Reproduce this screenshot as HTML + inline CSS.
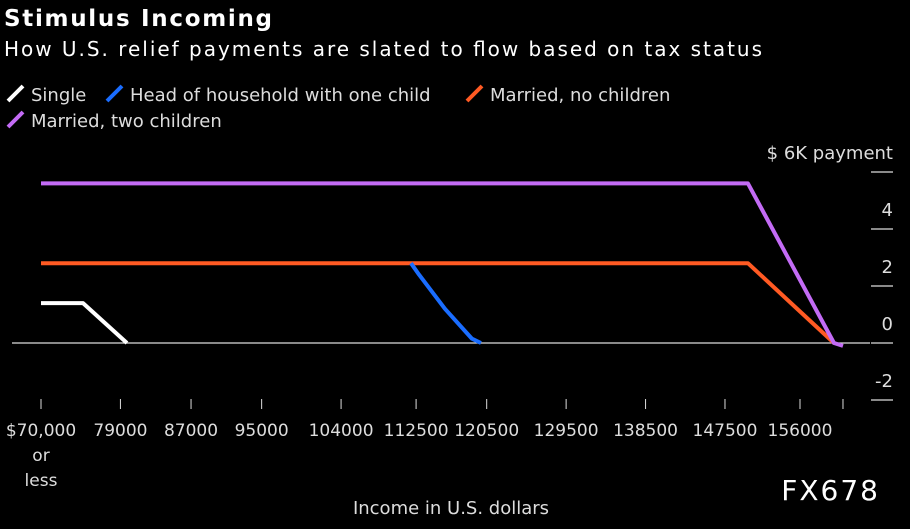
<!DOCTYPE html>
<html><head><meta charset="utf-8"><style>
body{margin:0;background:#000;width:910px;height:525px;overflow:hidden;font-family:"DejaVu Sans","Liberation Sans",sans-serif;}
svg text{fill:#ddd;}
</style></head><body>
<svg id="chart" width="910" height="525" xmlns="http://www.w3.org/2000/svg">
<rect width="910" height="525" fill="#000"/>
<text x="4" y="26" font-size="23" font-weight="bold" style="fill:#fff" textLength="268">Stimulus Incoming</text>
<text x="4" y="56" font-size="20" style="fill:#fff" textLength="758">How U.S. relief payments are slated to flow based on tax status</text>
<g id="legend" font-size="18"></g>
<g id="yaxis" font-size="18"></g>
<g id="xaxis" font-size="17"></g>
<g id="series"></g>
<text x="451" y="514" font-size="18" text-anchor="middle">Income in U.S. dollars</text>
<text x="880" y="500" font-size="28" text-anchor="end" style="fill:#fff" letter-spacing="2">FX678</text>
</svg>
<script>
const tickValues=[70000,79000,87000,95000,104000,112500,120500,129500,138500,147500,156000,160870];
const tickLabels=["$70,000","79000","87000","95000","104000","112500","120500","129500","138500","147500","156000",""];
const yTicks=[-2,0,2,4,6];
const seriesNames=["Single","Head of household with one child","Married, no children","Married, two children"];
const seriesColors=["#ffffff","#1a6dff","#ff5a23","#c36bf5"];
const singleX=[70000,74760,79740];
const singleY=[1.4,1.4,0];
const headX=[111920,112830,115770,118830,119850];
const headY=[2.8,2.4,1.2,0.15,0];
const marriedX=[70000,150100,159850];
const marriedY=[2.8,2.8,0];
const marriedKidsX=[70000,150100,159850,160870];
const marriedKidsY=[5.6,5.6,0,-0.1];

const NS="http://www.w3.org/2000/svg";
const xs=v=>41+(v-70000)*759/86000;
const ys=v=>343-v*28.5;
function mk(tag,attrs,parent,txt){const e=document.createElementNS(NS,tag);for(const k in attrs)e.setAttribute(k,attrs[k]);if(txt!==undefined)e.textContent=txt;parent.appendChild(e);return e;}

const lg=document.getElementById('legend');
const legPos=[[8,101],[107,101],[467,101],[8,127]];
seriesNames.forEach((n,i)=>{
  const [lx,ly]=legPos[i];
  const l=mk('line',{x1:lx,y1:ly,x2:lx+15,y2:ly-15,stroke:seriesColors[i],'stroke-width':4},lg);
  
  
  const t=mk('text',{x:lx+23,y:ly},lg,n);
  
  
});

const ya=document.getElementById('yaxis');
yTicks.forEach(v=>{
  const l=mk('line',{x1:871,x2:893,y1:ys(v),y2:ys(v),stroke:'#ddd','stroke-width':1.2},ya);
  
  
  const t=mk('text',{x:893,y:ys(v)-13,'text-anchor':'end'},ya,v===6?'$ 6K payment':String(v));
  
  
});
const zl=mk('line',{x1:12,x2:870,y1:ys(0),y2:ys(0),stroke:'#ddd','stroke-width':1.2},ya);



const xa=document.getElementById('xaxis');
tickValues.forEach((c,i)=>{
  const l=mk('line',{x1:xs(c),x2:xs(c),y1:399,y2:409,stroke:'#ddd','stroke-width':1},xa);
  
  
  if(tickLabels[i]){
    const t=mk('text',{x:xs(c),y:436,'text-anchor':'middle'},xa,tickLabels[i]);
    
    
  }
});
const o1=mk('text',{x:41,y:461,'text-anchor':'middle'},xa,'or');


const o2=mk('text',{x:41,y:486,'text-anchor':'middle'},xa,'less');



const sg=document.getElementById('series');
const data=[[singleX,singleY],[headX,headY],[marriedX,marriedY],[marriedKidsX,marriedKidsY]];
const names=['single-line','head-of-household-line','married-no-children-line','married-two-children-line'];
[2,3,1,0].forEach(i=>{
  const [X,Y]=data[i];
  const p=mk('polyline',{points:X.map((x,j)=>xs(x)+','+ys(Y[j])).join(' '),fill:'none',stroke:seriesColors[i],'stroke-width':4,'stroke-linejoin':'round'},sg);
  
  
});
</script>
</body></html>
